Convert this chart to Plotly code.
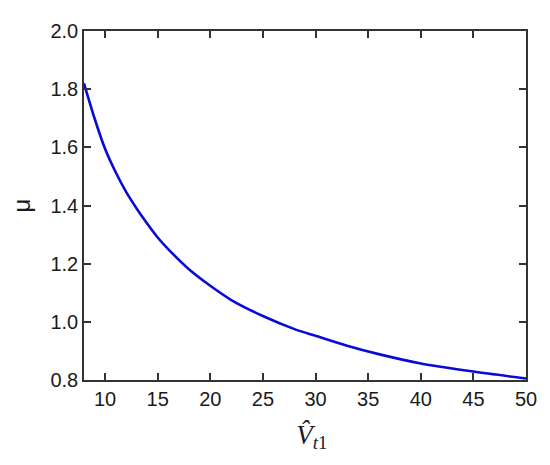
import plotly.graph_objects as go

# values
v_t1 = [8, 9, 10, 11, 12, 13, 14, 15, 16, 18, 20, 22, 25, 28, 30, 33, 36, 40, 45, 50]
mu = [1.82, 1.70, 1.595, 1.515, 1.447, 1.39, 1.338, 1.29, 1.25, 1.18, 1.124, 1.075,
      1.02, 0.975, 0.952, 0.918, 0.889, 0.857, 0.829, 0.805]

x_ticks = [10, 15, 20, 25, 30, 35, 40, 45, 50]
y_ticks = [0.8, 1.0, 1.2, 1.4, 1.6, 1.8, 2.0]

fig = go.Figure()

fig.add_trace(go.Scatter(
    x=v_t1,
    y=mu,
    mode='lines',
    line=dict(color='#0a0ad8', width=2.6, shape='spline', smoothing=0.8),
    showlegend=False
))

axis_style = dict(
    showline=True,
    linecolor='#333333',
    linewidth=1.5,
    mirror='ticks',
    ticks='inside',
    ticklen=7,
    tickwidth=1.5,
    tickcolor='#333333',
    showgrid=False,
    zeroline=False,
    tickfont=dict(family='Liberation Sans, Arial', size=20, color='#1a1a1a'),
)

# page body has an 8px margin, so the margins are shifted to match
fig.update_layout(
    width=550,
    height=465,
    margin=dict(l=75, r=32, t=13, b=93),
    paper_bgcolor='white',
    plot_bgcolor='white',
    xaxis=dict(
        range=[8, 50],
        tickvals=x_ticks,
        ticktext=[str(t) for t in x_ticks],
        title=dict(
            text='&nbsp;&nbsp;<i>V\u0302</i><sub><i>t</i>1</sub>',
            font=dict(family='Liberation Serif, Times New Roman', size=27, color='#1a1a1a'),
            standoff=16
        ),
        **axis_style
    ),
    yaxis=dict(
        range=[0.8, 2.0],
        tickvals=y_ticks,
        ticktext=[f'{t:.1f}' for t in y_ticks],
        title=dict(
            text='\u03bc',
            font=dict(family='Liberation Sans, Arial', size=24, color='#1a1a1a'),
            standoff=14
        ),
        **axis_style
    ),
)

fig.write_html("out.html")
